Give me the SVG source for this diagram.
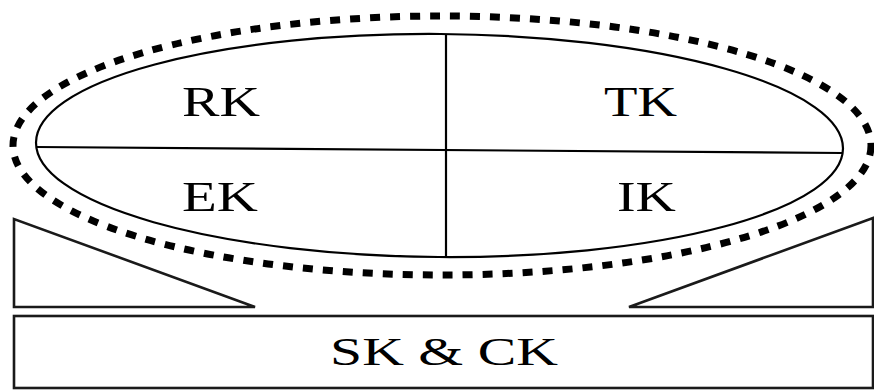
<svg xmlns="http://www.w3.org/2000/svg" width="874" height="390" viewBox="0 0 874 390">
<style>
.ln{fill:none;stroke:#000;stroke-width:2.2}
.sh{fill:#fff;stroke:#1a1a1a;stroke-width:2.6}
.t{font-family:"Liberation Serif","Times New Roman",serif;fill:#000}
</style>
<rect width="874" height="390" fill="#fff"/>
<g id="dotted-ring">
<ellipse cx="442" cy="145.5" rx="429" ry="129.5" fill="none" stroke="#000" stroke-width="7" stroke-dasharray="10 10"/>
</g>
<g id="left-wedge"><polygon class="sh" points="14,219 14,307 255,307"/></g>
<g id="right-wedge"><polygon class="sh" points="629,307 873,218 873,307"/></g>
<g id="base">
<rect class="sh" x="14" y="316" width="859" height="72"/>
<text class="t" x="330" y="365" font-size="39" textLength="228" lengthAdjust="spacingAndGlyphs">SK &amp; CK</text>
</g>
<g id="connectors">
<ellipse class="ln" cx="439.5" cy="145.5" rx="403.5" ry="111.5" transform="rotate(0.43 439.5 145.5)"/>
<line class="ln" x1="36" y1="147" x2="843" y2="153"/>
<line class="ln" x1="446" y1="34" x2="446" y2="257"/>
</g>
<g id="RK"><text class="t" x="182" y="116" font-size="42" textLength="78" lengthAdjust="spacingAndGlyphs">RK</text></g>
<g id="TK"><text class="t" x="604" y="116" font-size="42" textLength="73" lengthAdjust="spacingAndGlyphs">TK</text></g>
<g id="EK"><text class="t" x="182" y="211" font-size="42" textLength="76" lengthAdjust="spacingAndGlyphs">EK</text></g>
<g id="IK"><text class="t" x="617" y="211" font-size="42" textLength="59" lengthAdjust="spacingAndGlyphs">IK</text></g>
</svg>
